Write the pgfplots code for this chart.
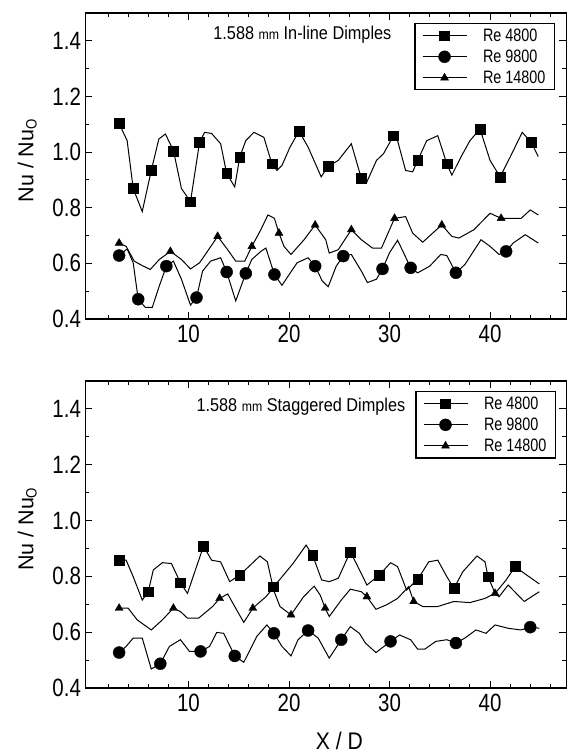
\documentclass[border=0pt]{standalone}
\usepackage{pgfplots}
\pgfplotsset{compat=1.18}
\usepackage{fontspec}
\setmainfont{Liberation Sans}[FakeStretch=0.88]
\newfontfamily\ticknarrow{Liberation Sans}[FakeStretch=0.82]
\newfontfamily\legnarrow{Liberation Sans}[FakeStretch=0.8]
\newfontfamily\plainsans{Liberation Sans}
\begin{document}
\pgfplotsset{
  dimplestyle/.style={
    scale only axis, width=481pt,
    xmin=-0.25, xmax=47.6, ymin=0.4, ymax=1.5,
    xtick={10,20,30,40}, minor xtick={2,4,...,46},
    ytick={0.4,0.6,0.8,1.0,1.2,1.4}, minor ytick={0.5,0.7,0.9,1.1,1.3},
    tick align=inside, major tick length=7pt, minor tick length=4pt,
    every tick/.style={black, line width=1pt},
    axis line style={line width=1.4pt},
    /pgf/number format/assume math mode=true,
    ticklabel style={font=\ticknarrow\fontsize{25}{25}\selectfont},
    yticklabel style={/pgf/number format/fixed, /pgf/number format/fixed zerofill, /pgf/number format/precision=1, xshift=-1pt},
    xticklabel style={yshift=-3pt},
    ylabel={Nu / Nu$_{\mathrm{O}}$},
    ylabel style={font=\plainsans\fontsize{21.5}{21.5}\selectfont, at={(axis description cs:-0.121,0.52)}, anchor=center, rotate=0},
    legend cell align=left,
    legend style={draw=black, line width=1.2pt, font=\legnarrow\fontsize{18}{19}\selectfont,
      inner xsep=7pt, inner ysep=3pt, row sep=3pt},
    /tikz/every odd column/.append style={column sep=14pt},
    legend image code/.code={\draw[mark repeat=2,mark phase=2,#1] plot coordinates {(0pt,0pt)(22pt,0pt)(44pt,0pt)};},
  },
  sq/.style={black, line width=1pt, mark=square*, mark size=4.9pt, mark options={solid, line width=0.4pt}},
  ci/.style={black, line width=1pt, mark=*, mark size=6pt, mark options={solid, line width=0.4pt}},
  tr/.style={black, line width=1pt, mark=triangle*, mark size=4.6pt, mark options={solid, line width=0.4pt}},
  ln/.style={black, line width=1pt, no marks},
}
\begin{tikzpicture}[x=1pt,y=1pt]
\useasboundingbox (0,0) rectangle (568,753);
% ---------------- top: in-line ----------------
\begin{axis}[dimplestyle, height=306pt, at={(83pt,434pt)}, anchor=south west,
  legend style={at={(axis description cs:0.684,0.967)}, anchor=north west}]
\addlegendimage{sq}\addlegendentry{Re 4800}
\addlegendimage{ci}\addlegendentry{Re 9800}
\addlegendimage{tr}\addlegendentry{Re 14800}
% Re 4800 line
\addplot[ln] coordinates {(3.1,1.103)(3.9,1.041)(4.5,0.869)(5.4,0.786)(6.3,0.934)(7.05,1.047)(7.7,1.065)(8.5,1.006)(9.3,0.869)(10.2,0.822)(11.1,1.035)(11.6,1.071)(12.3,1.067)(13.2,1.03)(13.8,0.923)(14.6,0.875)(15.1,0.982)(15.7,1.041)(16.5,1.071)(17.5,1.053)(18.3,0.958)(18.8,0.934)(19.3,0.952)(20.1,1.018)(21.0,1.075)(21.9,1.018)(23.2,0.911)(23.9,0.949)(24.9,0.97)(26.2,1.03)(27.2,0.905)(27.7,0.889)(28.7,0.97)(29.4,0.994)(30.4,1.059)(30.8,1.041)(31.6,0.934)(32.3,0.929)(32.8,0.97)(33.7,1.041)(34.8,1.059)(35.7,0.958)(36.2,0.917)(37.1,0.982)(38.0,1.041)(39.0,1.083)(40.0,0.97)(41.0,0.911)(42.0,0.982)(43.2,1.071)(44.1,1.035)(44.8,0.984)};
\addplot[sq, only marks] coordinates {(3.1,1.103)(4.5,0.869)(6.3,0.934)(8.5,1.004)(10.2,0.822)(11.1,1.035)(13.8,0.923)(15.1,0.982)(18.3,0.958)(21.0,1.075)(23.9,0.949)(27.2,0.905)(30.4,1.059)(32.8,0.97)(35.7,0.958)(39.0,1.083)(41.0,0.911)(44.1,1.035)};
% Re 9800 line
\addplot[ln] coordinates {(3.1,0.628)(3.9,0.652)(4.5,0.602)(5.0,0.471)(5.7,0.442)(6.4,0.442)(7.1,0.519)(7.8,0.59)(8.5,0.608)(9.3,0.543)(10.2,0.45)(10.8,0.477)(11.4,0.572)(12.2,0.608)(13.2,0.62)(13.8,0.569)(14.7,0.465)(15.7,0.564)(16.3,0.614)(17.2,0.643)(17.7,0.655)(18.55,0.56)(19.3,0.521)(20.8,0.602)(21.9,0.62)(22.6,0.59)(23.3,0.537)(23.9,0.516)(24.7,0.59)(25.4,0.626)(26.2,0.632)(27.2,0.572)(27.8,0.531)(28.7,0.543)(29.3,0.58)(30.0,0.638)(30.8,0.683)(31.4,0.638)(32.1,0.584)(32.8,0.566)(34.0,0.59)(35.1,0.632)(35.7,0.628)(36.6,0.566)(37.5,0.596)(39.1,0.685)(40.0,0.661)(40.9,0.632)(41.6,0.643)(42.3,0.673)(43.5,0.703)(44.8,0.673)};
\addplot[ci, only marks] coordinates {(3.1,0.628)(5.0,0.471)(7.8,0.59)(10.8,0.477)(13.8,0.569)(15.7,0.564)(18.55,0.56)(22.6,0.59)(25.4,0.626)(29.3,0.58)(32.1,0.584)(36.6,0.566)(41.6,0.643)};
% Re 14800 line
\addplot[ln] coordinates {(3.1,0.673)(3.8,0.661)(4.6,0.608)(5.4,0.592)(6.2,0.578)(7.1,0.614)(8.2,0.643)(9.3,0.614)(10.2,0.58)(11.1,0.602)(12.0,0.649)(12.9,0.697)(13.9,0.649)(14.7,0.608)(15.6,0.608)(16.3,0.661)(17.2,0.721)(17.9,0.774)(18.55,0.762)(19.0,0.709)(19.5,0.661)(20.2,0.632)(21.5,0.685)(22.6,0.738)(23.65,0.685)(24.0,0.637)(24.9,0.649)(26.2,0.721)(27.2,0.685)(28.3,0.655)(29.2,0.655)(30.5,0.762)(31.6,0.768)(32.3,0.709)(33.3,0.676)(34.3,0.709)(35.2,0.738)(36.2,0.697)(36.9,0.691)(38.4,0.721)(40.0,0.78)(41.1,0.762)(43.1,0.762)(44.0,0.792)(44.8,0.774)};
\addplot[tr, only marks] coordinates {(3.1,0.673)(8.2,0.643)(12.9,0.697)(16.3,0.661)(19.0,0.709)(22.6,0.738)(26.2,0.721)(30.5,0.762)(35.2,0.738)(41.1,0.762)};
\node[font=\fontsize{18.5}{18.5}\selectfont] at (axis description cs:0.451,0.928) {1.588 {\fontsize{14}{14}\selectfont mm} In-line Dimples};
\end{axis}
% ---------------- bottom: staggered ----------------
\begin{axis}[dimplestyle, height=307pt, at={(83pt,65pt)}, anchor=south west,
  xlabel={X / D},
  xlabel style={font=\fontsize{24}{24}\selectfont, at={(axis description cs:0.528,-0.172)}, anchor=center},
  legend style={at={(axis description cs:0.686,0.967)}, anchor=north west}]
\addlegendimage{sq}\addlegendentry{Re 4800}
\addlegendimage{ci}\addlegendentry{Re 9800}
\addlegendimage{tr}\addlegendentry{Re 14800}
% Re 4800
\addplot[ln] coordinates {(3.1,0.858)(3.8,0.858)(4.5,0.799)(5.4,0.715)(6.0,0.745)(6.5,0.823)(7.4,0.849)(8.3,0.846)(9.2,0.777)(9.9,0.739)(10.8,0.835)(11.5,0.908)(12.3,0.858)(13.2,0.852)(14.1,0.781)(15.1,0.805)(16.0,0.835)(17.1,0.873)(17.85,0.852)(18.4,0.763)(18.9,0.781)(20.4,0.846)(21.7,0.912)(22.35,0.876)(23.25,0.787)(24.0,0.781)(24.9,0.793)(26.1,0.888)(26.7,0.846)(27.75,0.769)(29.0,0.805)(30.1,0.849)(30.8,0.835)(31.7,0.751)(32.8,0.789)(33.9,0.852)(34.8,0.858)(35.7,0.799)(36.4,0.757)(37.3,0.817)(38.7,0.873)(39.5,0.852)(39.8,0.799)(40.5,0.739)(41.6,0.787)(42.5,0.835)(43.4,0.811)(44.9,0.773)};
\addplot[sq, only marks] coordinates {(3.1,0.858)(6.0,0.745)(9.2,0.777)(11.5,0.908)(15.1,0.805)(18.4,0.763)(22.35,0.876)(26.1,0.888)(29.0,0.805)(32.8,0.789)(36.4,0.757)(39.8,0.799)(42.5,0.835)};
% Re 9800
\addplot[ln] coordinates {(3.1,0.527)(3.8,0.549)(4.5,0.579)(5.4,0.579)(6.3,0.468)(7.2,0.487)(8.1,0.549)(9.2,0.573)(10.1,0.531)(11.2,0.531)(12.1,0.549)(12.8,0.599)(13.5,0.596)(14.6,0.515)(15.5,0.492)(16.8,0.585)(17.8,0.626)(18.5,0.596)(19.3,0.549)(20.2,0.515)(20.9,0.573)(21.9,0.606)(22.9,0.579)(24.0,0.507)(25.2,0.573)(26.1,0.62)(27.0,0.596)(27.6,0.561)(28.65,0.527)(30.1,0.567)(31.0,0.59)(32.1,0.573)(32.8,0.539)(33.5,0.539)(34.6,0.567)(35.7,0.573)(36.6,0.561)(37.5,0.579)(38.6,0.608)(39.6,0.596)(40.5,0.626)(41.8,0.614)(43.05,0.608)(44.0,0.618)(44.9,0.614)};
\addplot[ci, only marks] coordinates {(3.1,0.527)(7.2,0.487)(11.2,0.531)(14.6,0.515)(18.5,0.596)(21.9,0.606)(25.2,0.573)(30.1,0.567)(36.6,0.561)(44.0,0.618)};
% Re 14800
\addplot[ln] coordinates {(3.1,0.686)(4.0,0.686)(4.9,0.644)(6.3,0.608)(7.4,0.644)(8.5,0.686)(9.2,0.674)(9.9,0.65)(11.0,0.65)(12.4,0.692)(13.1,0.721)(13.9,0.737)(14.6,0.692)(15.5,0.635)(16.4,0.686)(17.7,0.727)(18.4,0.757)(19.1,0.692)(20.2,0.662)(21.45,0.727)(22.5,0.765)(23.1,0.733)(23.6,0.686)(24.0,0.656)(25.2,0.715)(26.1,0.754)(27.2,0.745)(27.75,0.727)(28.65,0.682)(29.7,0.698)(30.8,0.721)(31.9,0.763)(32.4,0.71)(33.3,0.692)(34.8,0.692)(36.4,0.71)(38.0,0.706)(39.5,0.721)(40.5,0.739)(40.9,0.727)(41.8,0.769)(43.4,0.71)(44.9,0.745)};
\addplot[tr, only marks] coordinates {(3.1,0.686)(8.5,0.686)(13.1,0.721)(16.4,0.686)(20.2,0.662)(23.6,0.686)(27.75,0.727)(32.4,0.71)(40.5,0.739)};
\node[font=\fontsize{18.5}{18.5}\selectfont] at (axis description cs:0.448,0.915) {1.588 {\fontsize{14}{14}\selectfont mm} Staggered Dimples};
\end{axis}
\end{tikzpicture}
\end{document}
